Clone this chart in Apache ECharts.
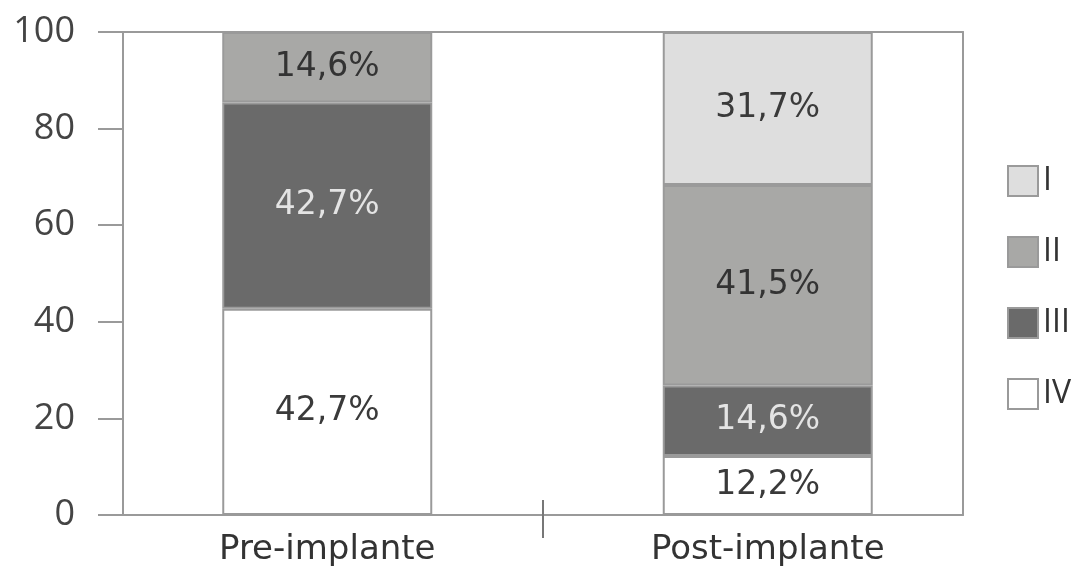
<!DOCTYPE html>
<html>
<head>
<meta charset="utf-8">
<script src="https://cdn.jsdelivr.net/npm/echarts@6/dist/echarts.min.js"></script>
<style>
    html, body { margin: 0; padding: 0; background: #fff; }
    #chart { width: 1075px; height: 573px; }
</style>
</head>
<body>
<div id="chart"></div>
<script>
var categories = ['Pre-implante', 'Post-implante'];
var grades = ['I', 'II', 'III', 'IV'];
var valuesI = [0, 31.7];
var valuesII = [14.6, 41.5];
var valuesIII = [42.7, 14.6];
var valuesIV = [42.7, 12.2];
var yTicks = [0, 20, 40, 60, 80, 100];

var chart = echarts.init(document.getElementById('chart'));
var axisFont = '"Open Sans", "DejaVu Sans", sans-serif';
var textFont = '"DejaVu Sans", sans-serif';
var lineColor = '#9a9a9a';

function pct(p) {
    if (!p.value) return '';
    return p.value.toFixed(1).replace('.', ',') + '%';
}

function makeSeries(name, data, fill, textColor) {
    return {
        name: name,
        type: 'bar',
        stack: 'total',
        xAxisIndex: 0,
        yAxisIndex: 2,
        barWidth: 210,
        data: data,
        itemStyle: { color: fill, borderColor: lineColor, borderWidth: 2 },
        label: {
            show: true,
            position: 'inside',
            formatter: pct,
            color: textColor,
            fontFamily: textFont,
            fontSize: 33
        }
    };
}

// stacking order: IV at the bottom, I on top
var series = [
    makeSeries('IV', valuesIV, '#ffffff', '#3a3a3a'),
    makeSeries('III', valuesIII, '#6a6a6a', '#e4e4e4'),
    makeSeries('II', valuesII, '#a8a8a6', '#333333'),
    makeSeries('I', valuesI, '#dedede', '#3a3a3a')
];

var option = {
    animation: false,
    backgroundColor: '#fff',
    grid: [
        { left: 123, right: 112, top: 32, bottom: 58 },   // frame + value axis
        { left: 107, right: 87, top: 32, bottom: 58 }     // bars (a bit wider, like the source)
    ],
    legend: {
        data: grades,
        orient: 'vertical',
        left: 1002,
        top: 160,
        itemWidth: 30,
        itemHeight: 30,
        itemGap: 39,
        icon: 'rect',
        itemStyle: { borderColor: lineColor, borderWidth: 2 },
        textStyle: { fontFamily: axisFont, fontSize: 32, color: '#333' }
    },
    xAxis: [
        {
            gridIndex: 1,
            type: 'category',
            data: categories,
            position: 'bottom',
            axisLine: { show: false },
            axisTick: { show: false },
            axisLabel: { fontFamily: textFont, fontSize: 34, color: '#333', margin: 18 }
        },
        {
            gridIndex: 0,
            type: 'category',
            data: categories,
            position: 'bottom',
            axisLine: { show: true, lineStyle: { color: lineColor, width: 2 } },
            axisTick: { show: false },
            axisLabel: { show: false }
        },
        {
            // only the middle boundary tick, crossing the axis line
            gridIndex: 0,
            type: 'category',
            data: ['', '', ''],
            boundaryGap: false,
            position: 'bottom',
            offset: -15,
            axisLine: { show: false },
            axisTick: {
                show: true,
                length: 38,
                interval: function (index) { return index === 1; },
                lineStyle: { color: '#777', width: 2 }
            },
            axisLabel: { show: false }
        },
        {
            gridIndex: 0,
            type: 'category',
            data: categories,
            position: 'top',
            axisLine: { show: true, lineStyle: { color: lineColor, width: 2 } },
            axisTick: { show: false },
            axisLabel: { show: false }
        }
    ],
    yAxis: [
        {
            gridIndex: 0,
            type: 'value',
            min: yTicks[0],
            max: yTicks[yTicks.length - 1],
            interval: 20,
            axisLine: { show: true, lineStyle: { color: lineColor, width: 2 } },
            axisTick: { show: true, length: 25, lineStyle: { color: lineColor, width: 2 } },
            axisLabel: { fontFamily: axisFont, fontSize: 36, color: '#444', margin: 48 },
            splitLine: { show: false }
        },
        {
            gridIndex: 0,
            type: 'value',
            position: 'right',
            min: 0,
            max: 100,
            axisLine: { show: true, lineStyle: { color: lineColor, width: 2 } },
            axisTick: { show: false },
            axisLabel: { show: false },
            splitLine: { show: false }
        },
        {
            gridIndex: 1,
            type: 'value',
            min: 0,
            max: 100,
            show: false
        }
    ],
    series: series
};

chart.setOption(option);
</script>
</body>
</html>
